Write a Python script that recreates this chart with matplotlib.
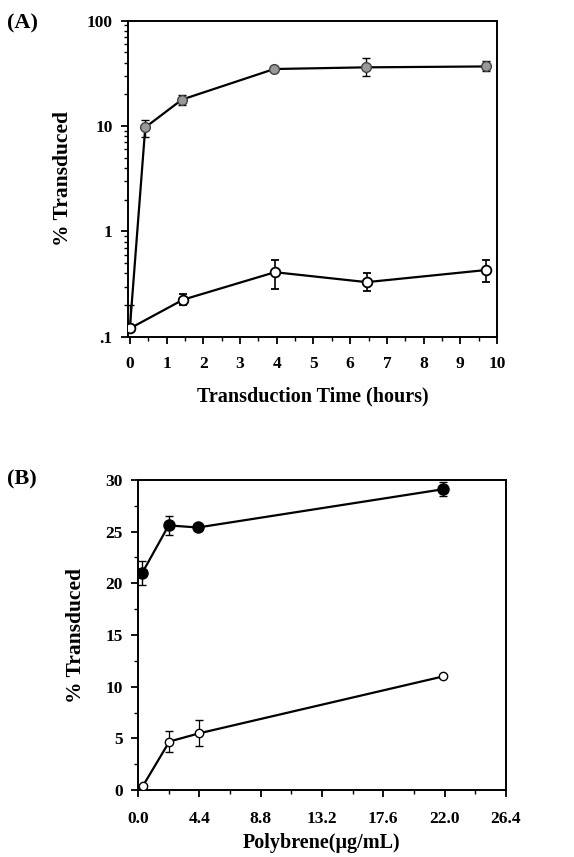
import numpy as np
import matplotlib.pyplot as plt
from matplotlib.ticker import FixedLocator, FixedFormatter, MultipleLocator, LogLocator, NullFormatter

plt.rcParams['font.family'] = ['Liberation Serif', 'DejaVu Serif']
plt.rcParams['font.weight'] = 'bold'

# ── DATA ──────────────────────────────────────────────────────────────────────

# Panel A: transduction time course (log scale)
a_x_filled = [0.0, 0.42, 1.42, 3.93, 6.43, 9.7]
a_y_filled = [0.12, 9.7, 17.8, 34.7, 36.0, 36.7]
a_lo_filled = [0.12, 7.8, 15.8, 33.0, 30.0, 32.9]
a_hi_filled = [0.20, 11.4, 19.5, 36.5, 43.7, 41.5]

a_x_open = [0.0, 1.45, 3.95, 6.45, 9.7]
a_y_open = [0.12, 0.225, 0.41, 0.33, 0.43]
a_lo_open = [0.12, 0.20, 0.286, 0.27, 0.33]
a_hi_open = [0.12, 0.257, 0.53, 0.40, 0.54]

a_xticks = [0, 1, 2, 3, 4, 5, 6, 7, 8, 9, 10]
a_yticks = [0.1, 1, 10, 100]
a_yticklabels = ['.1', '1', '10', '100']

# Panel B: polybrene dose
b_x_filled = [0.3, 2.2, 4.3, 21.9]
b_y_filled = [21.0, 25.6, 25.4, 29.1]
b_err_filled = [1.15, 0.9, 0.2, 0.7]

b_x_open = [0.35, 2.25, 4.4, 21.9]
b_y_open = [0.4, 4.7, 5.5, 11.0]
b_err_open = [0.1, 1.0, 1.25, 0.1]

b_xticks = [0.0, 4.4, 8.8, 13.2, 17.6, 22.0, 26.4]
b_xticklabels = ['0.0', '4.4', '8.8', '13.2', '17.6', '22.0', '26.4']
b_yticks = [0, 5, 10, 15, 20, 25, 30]

# ── PLOT ──────────────────────────────────────────────────────────────────────

fig = plt.figure(figsize=(5.74, 8.57), dpi=100)
axA = fig.add_axes([0.223, 0.607, 0.643, 0.369])
axB = fig.add_axes([0.2404, 0.078, 0.641, 0.362])

for ax in (axA, axB):
    for s in ax.spines.values():
        s.set_linewidth(1.4)
    ax.tick_params(which='major', direction='out', length=5, width=1.3, labelsize=12.5, pad=6)
    ax.tick_params(which='minor', direction='out', length=3, width=1.0)

# Panel A
yerr = [np.array(a_y_filled) - np.array(a_lo_filled), np.array(a_hi_filled) - np.array(a_y_filled)]
axA.errorbar(a_x_filled, a_y_filled, yerr=yerr, color='black', lw=1.6, capsize=3, elinewidth=1.0,
             marker='o', ms=7, mfc='0.6', mec='0.25', mew=1.0, zorder=3)
yerr = [np.array(a_y_open) - np.array(a_lo_open), np.array(a_hi_open) - np.array(a_y_open)]
axA.errorbar(a_x_open, a_y_open, yerr=yerr, color='black', lw=1.6, capsize=3, elinewidth=1.2,
             marker='o', ms=7, mfc='white', mec='black', mew=1.3, zorder=3)
axA.set_yscale('log')
axA.set_xlim(-0.05, 10)
axA.set_ylim(0.1, 100)
axA.xaxis.set_major_locator(FixedLocator(a_xticks))
axA.xaxis.set_minor_locator(MultipleLocator(0.5))
axA.yaxis.set_major_locator(FixedLocator(a_yticks))
axA.yaxis.set_major_formatter(FixedFormatter(a_yticklabels))
axA.yaxis.set_minor_locator(LogLocator(base=10, subs=np.arange(2, 10)))
axA.yaxis.set_minor_formatter(NullFormatter())
axA.tick_params(axis='x', pad=9)
axA.set_xlabel('Transduction Time (hours)', fontsize=14.5, fontweight='bold', labelpad=10)
axA.set_ylabel('% Transduced', fontsize=15.5, fontweight='bold', labelpad=10)
fig.text(0.012, 0.973, '(A)', fontsize=16, fontweight='bold', va='center')

# Panel B
axB.errorbar(b_x_filled, b_y_filled, yerr=b_err_filled, color='black', lw=1.6, capsize=3,
             elinewidth=1.0, marker='o', ms=8, mfc='black', mec='black', zorder=3)
axB.errorbar(b_x_open, b_y_open, yerr=b_err_open, color='black', lw=1.6, capsize=3,
             elinewidth=0.9, marker='o', ms=6, mfc='white', mec='black', mew=1.0, zorder=3)
axB.set_xlim(0, 26.4)
axB.set_ylim(0, 30)
axB.xaxis.set_major_locator(FixedLocator(b_xticks))
axB.xaxis.set_major_formatter(FixedFormatter(b_xticklabels))
axB.xaxis.set_minor_locator(MultipleLocator(2.2))
axB.yaxis.set_major_locator(FixedLocator(b_yticks))
axB.yaxis.set_minor_locator(MultipleLocator(2.5))
axB.tick_params(axis='x', pad=10)
axB.set_xlabel('Polybrene(\u03bcg/mL)', fontsize=14.5, fontweight='bold', labelpad=4)
axB.set_ylabel('% Transduced', fontsize=15.5, fontweight='bold', labelpad=14)
fig.text(0.012, 0.44, '(B)', fontsize=16, fontweight='bold', va='center')

plt.savefig('out.png', dpi=100)
